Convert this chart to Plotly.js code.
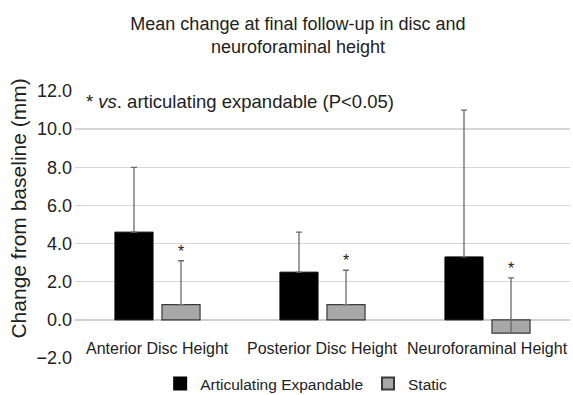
<!DOCTYPE html>
<html><head><meta charset="utf-8">
<script src="https://cdn.plot.ly/plotly-3.0.1.min.js"></script>
<style>body{margin:0;padding:0;background:#fff}#chart{width:573px;height:395px}</style>
</head><body><div id="chart"></div>
<script>
const categories = ["Anterior Disc Height", "Posterior Disc Height", "Neuroforaminal Height"];
const expandableMean = [4.6, 2.5, 3.3];
const expandableErrTop = [8.0, 4.6, 11.0];
const staticMean = [0.8, 0.8, -0.7];
const staticErrTop = [3.1, 2.6, 2.2];
const yTicks = [-2, 0, 2, 4, 6, 8, 10, 12];
const yAxisTitle = "Change from baseline (mm)";

const font = "Liberation Sans, Arial, sans-serif";
const txt = "#222222";
const errPlus = (means, tops) => means.map((m, i) => tops[i] - m);

const traces = [
  {type: "bar", name: "Articulating Expandable", x: categories, y: expandableMean,
   marker: {color: "#000000", line: {color: "#000000", width: 1}},
   error_y: {type: "data", symmetric: false, array: errPlus(expandableMean, expandableErrTop), arrayminus: expandableMean.map(() => 0), color: "#6a6a6a", thickness: 1.3, width: 3}},
  {type: "bar", name: "Static", x: categories, y: staticMean,
   marker: {color: "#a8a8a8", line: {color: "#3a3a3a", width: 1.2}},
   error_y: {type: "data", symmetric: false, array: errPlus(staticMean, staticErrTop), arrayminus: staticMean.map(() => 0), color: "#6a6a6a", thickness: 1.3, width: 3}}
];

const annotations = [];
categories.forEach((c, i) => {
  annotations.push({x: c, y: 0, xref: "x", yref: "y", text: c, showarrow: false, yanchor: "middle", yshift: -29, font: {family: font, size: 16, color: txt}});
  annotations.push({x: i, xshift: 23.5, y: staticErrTop[i], xref: "x", yref: "y", text: "*", showarrow: false, yanchor: "bottom", yshift: -1, font: {family: font, size: 16, color: txt}});
});
annotations.push({x: 0.018, y: 11.45, xref: "paper", yref: "y", xanchor: "left", yanchor: "middle", text: "* <i>vs</i>. articulating expandable (P<0.05)", showarrow: false, font: {family: font, size: 18.5, color: txt}});
annotations.push({x: -0.115, y: 0.56, xref: "paper", yref: "paper", xanchor: "center", yanchor: "middle", textangle: -90, text: yAxisTitle, showarrow: false, font: {family: font, size: 21, color: txt}});

const layout = {
  width: 573, height: 395,
  margin: {l: 75, r: 3, t: 91, b: 37, autoexpand: false},
  paper_bgcolor: "#fff", plot_bgcolor: "#fff",
  title: {text: "Mean change at final follow-up in disc and<br>neuroforaminal height", x: 0.52, xref: "container", xanchor: "center", yref: "container", y: 0.925, yanchor: "middle", font: {family: font, size: 18, color: txt}},
  barmode: "group", bargap: 0.43, bargroupgap: 0.19,
  xaxis: {showticklabels: false, showgrid: false, zeroline: false, showline: false, ticks: ""},
  yaxis: {range: [-2, 12], tickvals: yTicks, tickformat: ".1f", showgrid: true, gridcolor: "#d6d6d6", gridwidth: 1.3,
          zeroline: true, zerolinecolor: "#cfcfcf", zerolinewidth: 1.3, showline: false, ticks: "", ticklabelstandoff: 2,
          tickfont: {family: font, size: 18, color: txt}},
  showlegend: true,
  legend: {orientation: "h", x: 0.467, xanchor: "center", y: -0.097, yanchor: "middle", font: {family: font, size: 15.5, color: txt}, itemwidth: 30, itemsizing: "constant"},
  annotations: annotations
};
Plotly.newPlot("chart", traces, layout, {displayModeBar: false, staticPlot: true});
</script></body></html>
